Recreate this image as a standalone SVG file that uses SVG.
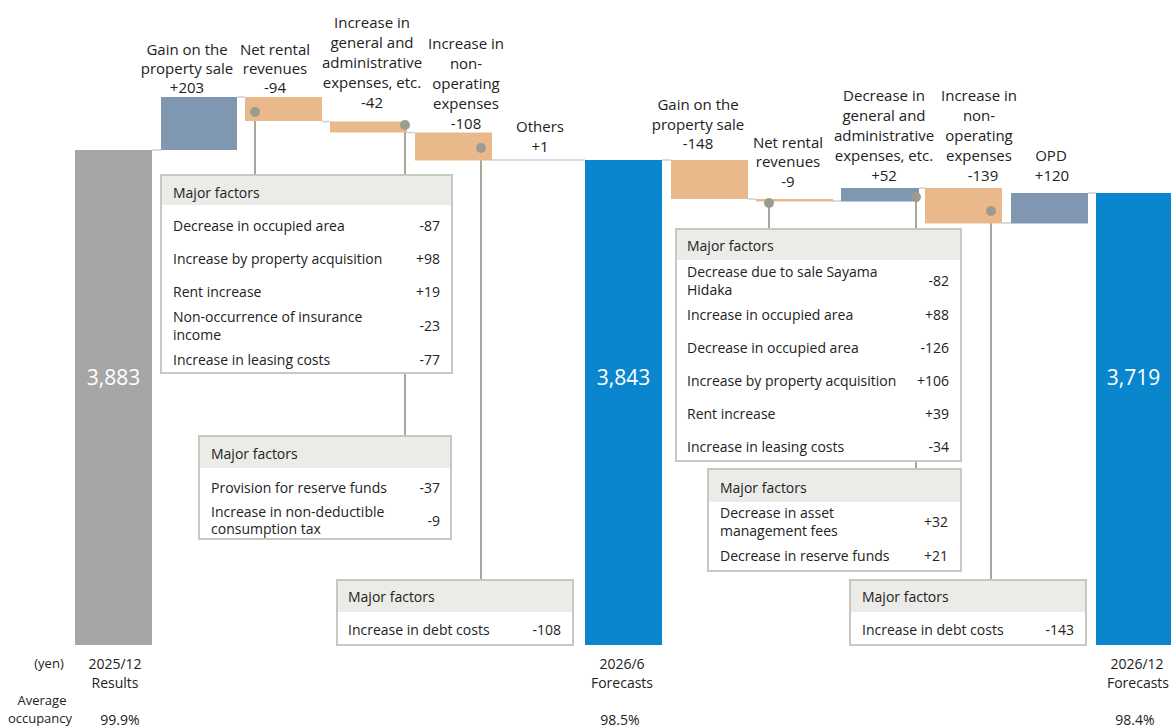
<svg xmlns="http://www.w3.org/2000/svg" width="1171" height="727" viewBox="0 0 1171 727">
<style>
text{font-family:"Open Sans","Noto Sans","Liberation Sans",sans-serif;fill:#222;}
.lbl{font-size:15px;text-anchor:middle;dominant-baseline:central;}
.big{font-size:21px;fill:#fff;text-anchor:middle;dominant-baseline:central;}
.bt{font-size:14px;dominant-baseline:central;}
.bv{font-size:14px;text-anchor:end;dominant-baseline:central;}
.ax{font-size:14px;text-anchor:middle;dominant-baseline:central;}
.gray{fill:#a6a6a6;}
.blue{fill:#0a86cf;}
.steel{fill:#8097b1;}
.orange{fill:#e9b98b;}
.step{stroke:#c8d0da;stroke-width:1.5;fill:none;}
.lead{stroke:#a7a79b;stroke-width:2;fill:none;}
.dot{fill:#9c9b8e;}
.box{fill:#fff;stroke:#c8c8c3;stroke-width:2;}
.hdr{fill:#ebebe8;}
</style>
<rect width="1171" height="727" fill="#fff"/>

<g id="connectors">
  <line class="step" x1="152" y1="150" x2="161" y2="150"/>
  <line class="step" x1="237" y1="97" x2="245" y2="97"/>
  <line class="step" x1="322" y1="121.5" x2="330" y2="121.5"/>
  <line class="step" x1="407" y1="132.5" x2="415" y2="132.5"/>
  <line class="step" x1="492" y1="160" x2="585" y2="160"/>
  <line class="step" x1="662" y1="160" x2="671" y2="160"/>
  <line class="step" x1="748" y1="199" x2="756" y2="199"/>
  <line class="step" x1="832" y1="201" x2="841" y2="201"/>
  <line class="step" x1="919" y1="188" x2="925" y2="188"/>
  <line class="step" x1="1002" y1="223" x2="1011" y2="223"/>
  <line class="step" x1="1088" y1="193" x2="1096" y2="193"/>
  <line class="lead" x1="255" y1="112" x2="255" y2="175"/>
  <line class="lead" x1="405" y1="125" x2="405" y2="436"/>
  <line class="lead" x1="481" y1="148" x2="481" y2="580"/>
  <line class="lead" x1="769" y1="203" x2="769" y2="229"/>
  <line class="lead" x1="916" y1="197" x2="916" y2="469"/>
  <line class="lead" x1="991" y1="211" x2="991" y2="580"/>
</g>

<g id="bar-2025-12">
  <rect class="gray" x="75" y="150" width="77" height="495"/>
  <text class="big" x="113.5" y="377">3,883</text>
  <text class="ax" x="115" y="663">2025/12</text>
  <text class="ax" x="115" y="682">Results</text>
  <text class="ax" x="120" y="719">99.9%</text>
</g>
<g id="axis-notes">
  <text class="ax" style="font-size:13px" x="49" y="663">(yen)</text>
  <text class="ax" style="font-size:13px" x="42" y="700">Average</text>
  <text class="ax" style="font-size:13px" x="40" y="718">occupancy</text>
</g>
<g id="gain-sale-1">
  <rect class="steel" x="161" y="97" width="76" height="53"/>
  <text class="lbl" x="187" y="49">Gain on the</text>
  <text class="lbl" x="187" y="68">property sale</text>
  <text class="lbl" x="187" y="87">+203</text>
</g>
<g id="net-rental-1">
  <rect class="orange" x="245" y="97" width="77" height="24"/>
  <text class="lbl" x="275" y="49">Net rental</text>
  <text class="lbl" x="275" y="68">revenues</text>
  <text class="lbl" x="275" y="87">-94</text>
  <circle class="dot" cx="255" cy="112" r="5"/>
</g>
<g id="ga-1">
  <rect class="orange" x="330" y="121.5" width="77" height="11"/>
  <text class="lbl" x="372" y="22">Increase in</text>
  <text class="lbl" x="372" y="42">general and</text>
  <text class="lbl" x="372" y="62">administrative</text>
  <text class="lbl" x="372" y="82">expenses, etc.</text>
  <text class="lbl" x="372" y="102">-42</text>
  <circle class="dot" cx="405" cy="125" r="5"/>
</g>
<g id="nonop-1">
  <rect class="orange" x="415" y="132.5" width="77" height="28"/>
  <text class="lbl" x="466" y="43">Increase in</text>
  <text class="lbl" x="466" y="63">non-</text>
  <text class="lbl" x="466" y="83">operating</text>
  <text class="lbl" x="466" y="103">expenses</text>
  <text class="lbl" x="466" y="123">-108</text>
  <circle class="dot" cx="481" cy="148" r="5"/>
</g>
<g id="others-1">
  <text class="lbl" x="540" y="126">Others</text>
  <text class="lbl" x="540" y="146">+1</text>
</g>
<g id="bar-2026-6">
  <rect class="blue" x="585" y="160" width="77" height="485"/>
  <text class="big" x="623.5" y="377">3,843</text>
  <text class="ax" x="622" y="663">2026/6</text>
  <text class="ax" x="622" y="682">Forecasts</text>
  <text class="ax" x="620" y="719">98.5%</text>
</g>
<g id="gain-sale-2">
  <rect class="orange" x="671" y="160" width="77" height="39"/>
  <text class="lbl" x="698" y="104">Gain on the</text>
  <text class="lbl" x="698" y="124">property sale</text>
  <text class="lbl" x="698" y="143">-148</text>
</g>
<g id="net-rental-2">
  <rect class="orange" x="756" y="199" width="77" height="2.5"/>
  <text class="lbl" x="788" y="142">Net rental</text>
  <text class="lbl" x="788" y="161">revenues</text>
  <text class="lbl" x="788" y="181">-9</text>
  <circle class="dot" cx="769" cy="203" r="5"/>
</g>
<g id="ga-2">
  <rect class="steel" x="841" y="188" width="78" height="13.5"/>
  <text class="lbl" x="884" y="95">Decrease in</text>
  <text class="lbl" x="884" y="115">general and</text>
  <text class="lbl" x="884" y="135">administrative</text>
  <text class="lbl" x="884" y="155">expenses, etc.</text>
  <text class="lbl" x="884" y="175">+52</text>
  <circle class="dot" cx="916" cy="197" r="5"/>
</g>
<g id="nonop-2">
  <rect class="orange" x="925" y="188" width="77" height="35.5"/>
  <text class="lbl" x="979" y="95">Increase in</text>
  <text class="lbl" x="979" y="115">non-</text>
  <text class="lbl" x="979" y="135">operating</text>
  <text class="lbl" x="979" y="155">expenses</text>
  <text class="lbl" x="983" y="175">-139</text>
  <circle class="dot" cx="991" cy="211" r="5"/>
</g>
<g id="opd">
  <rect class="steel" x="1011" y="193" width="77" height="30.5"/>
  <text class="lbl" x="1051" y="155">OPD</text>
  <text class="lbl" x="1052" y="175">+120</text>
</g>
<g id="bar-2026-12">
  <rect class="blue" x="1096" y="193" width="75" height="452"/>
  <text class="big" x="1133.5" y="377">3,719</text>
  <text class="ax" x="1137" y="663">2026/12</text>
  <text class="ax" x="1138" y="682">Forecasts</text>
  <text class="ax" x="1135" y="719">98.4%</text>
</g>

<g id="box-net-rental-1">
  <rect class="box" x="161" y="175" width="291" height="198"/>
  <rect class="hdr" x="162" y="176" width="289" height="29"/>
  <text class="bt" x="173" y="192">Major factors</text>
  <text class="bt" x="173" y="225">Decrease in occupied area</text><text class="bv" x="440" y="225">-87</text>
  <text class="bt" x="173" y="258">Increase by property acquisition</text><text class="bv" x="440" y="258">+98</text>
  <text class="bt" x="173" y="291">Rent increase</text><text class="bv" x="440" y="291">+19</text>
  <text class="bt" x="173" y="316">Non-occurrence of insurance</text>
  <text class="bt" x="173" y="334">income</text><text class="bv" x="440" y="325">-23</text>
  <text class="bt" x="173" y="359">Increase in leasing costs</text><text class="bv" x="440" y="359">-77</text>
</g>
<g id="box-ga-1">
  <rect class="box" x="199" y="436" width="252" height="103"/>
  <rect class="hdr" x="200" y="437" width="250" height="31"/>
  <text class="bt" x="211" y="453">Major factors</text>
  <text class="bt" x="211" y="487">Provision for reserve funds</text><text class="bv" x="440" y="487">-37</text>
  <text class="bt" x="211" y="511">Increase in non-deductible</text>
  <text class="bt" x="211" y="528">consumption tax</text><text class="bv" x="440" y="520">-9</text>
</g>
<g id="box-nonop-1">
  <rect class="box" x="337" y="580" width="236" height="65"/>
  <rect class="hdr" x="338" y="581" width="234" height="31"/>
  <text class="bt" x="348" y="596">Major factors</text>
  <text class="bt" x="348" y="629">Increase in debt costs</text><text class="bv" x="561" y="629">-108</text>
</g>
<g id="box-net-rental-2">
  <rect class="box" x="676" y="229" width="285" height="232"/>
  <rect class="hdr" x="677" y="230" width="283" height="30"/>
  <text class="bt" x="687" y="245">Major factors</text>
  <text class="bt" x="687" y="271">Decrease due to sale Sayama</text>
  <text class="bt" x="687" y="289">Hidaka</text><text class="bv" x="949" y="280">-82</text>
  <text class="bt" x="687" y="314">Increase in occupied area</text><text class="bv" x="949" y="314">+88</text>
  <text class="bt" x="687" y="347">Decrease in occupied area</text><text class="bv" x="949" y="347">-126</text>
  <text class="bt" x="687" y="380">Increase by property acquisition</text><text class="bv" x="949" y="380">+106</text>
  <text class="bt" x="687" y="413">Rent increase</text><text class="bv" x="949" y="413">+39</text>
  <text class="bt" x="687" y="446">Increase in leasing costs</text><text class="bv" x="949" y="446">-34</text>
</g>
<g id="box-ga-2">
  <rect class="box" x="708" y="469" width="253" height="102"/>
  <rect class="hdr" x="709" y="470" width="251" height="32"/>
  <text class="bt" x="720" y="487">Major factors</text>
  <text class="bt" x="720" y="512">Decrease in asset</text>
  <text class="bt" x="720" y="530">management fees</text><text class="bv" x="948" y="521">+32</text>
  <text class="bt" x="720" y="555">Decrease in reserve funds</text><text class="bv" x="948" y="555">+21</text>
</g>
<g id="box-nonop-2">
  <rect class="box" x="850" y="580" width="236" height="65"/>
  <rect class="hdr" x="851" y="581" width="234" height="31"/>
  <text class="bt" x="862" y="596">Major factors</text>
  <text class="bt" x="862" y="629">Increase in debt costs</text><text class="bv" x="1074" y="629">-143</text>
</g>
</svg>
